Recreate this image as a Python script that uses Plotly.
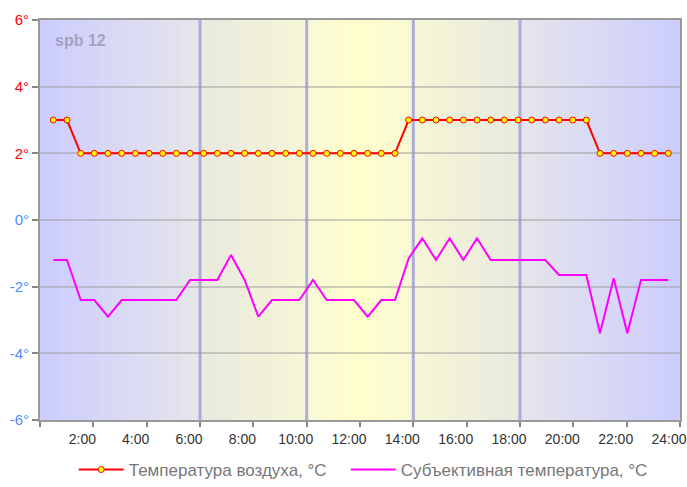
import plotly.graph_objects as go

# ---- data ----
n_points = 46
x_hours = [0.5 + 0.5125 * i for i in range(n_points)]

air_temp = [3, 3,
            2, 2, 2, 2, 2, 2, 2, 2, 2, 2, 2, 2, 2, 2, 2, 2, 2, 2, 2, 2, 2, 2, 2, 2,
            3, 3, 3, 3, 3, 3, 3, 3, 3, 3, 3, 3, 3, 3,
            2, 2, 2, 2, 2, 2]

feel_temp = [-1.2, -1.2, -2.4, -2.4, -2.9, -2.4, -2.4, -2.4, -2.4, -2.4,
             -1.8, -1.8, -1.8, -1.05, -1.8, -2.9, -2.4, -2.4, -2.4, -1.8,
             -2.4, -2.4, -2.4, -2.9, -2.4, -2.4, -1.15, -0.55, -1.2, -0.55,
             -1.2, -0.55, -1.2, -1.2, -1.2, -1.2, -1.2, -1.65, -1.65, -1.65,
             -3.4, -1.75, -3.4, -1.8, -1.8, -1.8]

x_tick_vals = [0, 2, 4, 6, 8, 10, 12, 14, 16, 18, 20, 22, 24]
x_tick_text = ["", "2:00", "4:00", "6:00", "8:00", "10:00", "12:00", "14:00",
               "16:00", "18:00", "20:00", "22:00", "24:00"]
y_tick_vals = [-6, -4, -2, 0, 2, 4, 6]
y_tick_labels = ["-6°", "-4°", "-2°", "0°", "2°", "4°", "6°"]
marker_hours = [6, 10, 14, 18]

series_names = ["Температура воздуха, °C", "Субъективная температура, °C"]

# ---- styling ----
FONT = "Arial, Liberation Sans, sans-serif"
RED = "#ff0000"
BLUE = "#4d8cff"

y_tick_text = [
    f'<span style="color:{RED if v > 0 else BLUE}">{t}</span>'
    for v, t in zip(y_tick_vals, y_tick_labels)
]

bg_segments = [
    (0, 6, (204, 204, 255), (230, 230, 234)),
    (6, 10, (233, 233, 223), (246, 246, 214)),
    (10, 12, (248, 248, 214), (255, 255, 204)),
    (12, 14, (255, 255, 204), (248, 248, 214)),
    (14, 18, (246, 246, 214), (233, 233, 223)),
    (18, 24, (230, 230, 234), (204, 204, 255)),
]

shapes = []
step = 0.125
for x0, x1, c0, c1 in bg_segments:
    n = int(round((x1 - x0) / step))
    for k in range(n):
        t = (k + 0.5) / n
        col = tuple(round(c0[j] + (c1[j] - c0[j]) * t) for j in range(3))
        a = x0 + k * step
        shapes.append(dict(type="rect", xref="x", yref="y", x0=a, x1=a + step + 0.02,
                           y0=-6, y1=6, fillcolor="rgb(%d,%d,%d)" % col,
                           line=dict(width=0), layer="below"))

for h in marker_hours:
    shapes.append(dict(type="line", xref="x", yref="y", x0=h, x1=h, y0=-6, y1=6,
                       line=dict(color="rgba(160,160,220,0.85)", width=3), layer="below"))

fig = go.Figure()
fig.add_trace(go.Scatter(
    x=x_hours, y=air_temp, name=series_names[0] + "\u00a0\u00a0\u00a0", mode="lines+markers",
    line=dict(color=RED, width=2),
    marker=dict(color="#ffff00", size=6, line=dict(color=RED, width=1)),
))
fig.add_trace(go.Scatter(
    x=x_hours, y=feel_temp, name=series_names[1], mode="lines",
    line=dict(color="#ff00ff", width=2),
))

fig.update_layout(
    width=687, height=487,
    margin=dict(l=40, r=7, t=20, b=67, autoexpand=False),
    paper_bgcolor="white", plot_bgcolor="white",
    font=dict(family=FONT),
    shapes=shapes,
    showlegend=True,
    legend=dict(orientation="h", x=0.505, xanchor="center", y=-0.125, yanchor="middle",
                font=dict(size=17, color="#777777", family=FONT),
                bgcolor="rgba(0,0,0,0)", itemwidth=45),
    annotations=[dict(text="<b>spb 12</b>", xref="paper", yref="paper", x=0.02, y=0.95,
                      xanchor="left", yanchor="middle", showarrow=False,
                      font=dict(size=16, color="rgba(150,150,178,0.8)", family=FONT))],
)
fig.update_xaxes(
    range=[0, 24], tickmode="array", tickvals=x_tick_vals, ticktext=x_tick_text,
    ticks="outside", ticklen=5, tickwidth=2, tickcolor="#888888",
    showline=True, linecolor="#999999", linewidth=2, mirror=True,
    showgrid=False, zeroline=False, ticklabelshift=-11, automargin=False,
    tickfont=dict(size=14, color="#333333", family=FONT),
)
fig.update_yaxes(
    range=[-6, 6], tickmode="array", tickvals=y_tick_vals, ticktext=y_tick_text,
    ticks="outside", ticklen=6, tickwidth=2, tickcolor="#888888",
    showline=True, linecolor="#999999", linewidth=2, mirror=True,
    showgrid=True, gridcolor="rgba(150,150,150,0.45)", gridwidth=2, zeroline=False,
    automargin=False,
    tickfont=dict(size=15, family=FONT),
)

fig.write_html("out.html", config={"displayModeBar": False},
               post_script="document.body.style.margin='0';document.body.style.padding='0';")
